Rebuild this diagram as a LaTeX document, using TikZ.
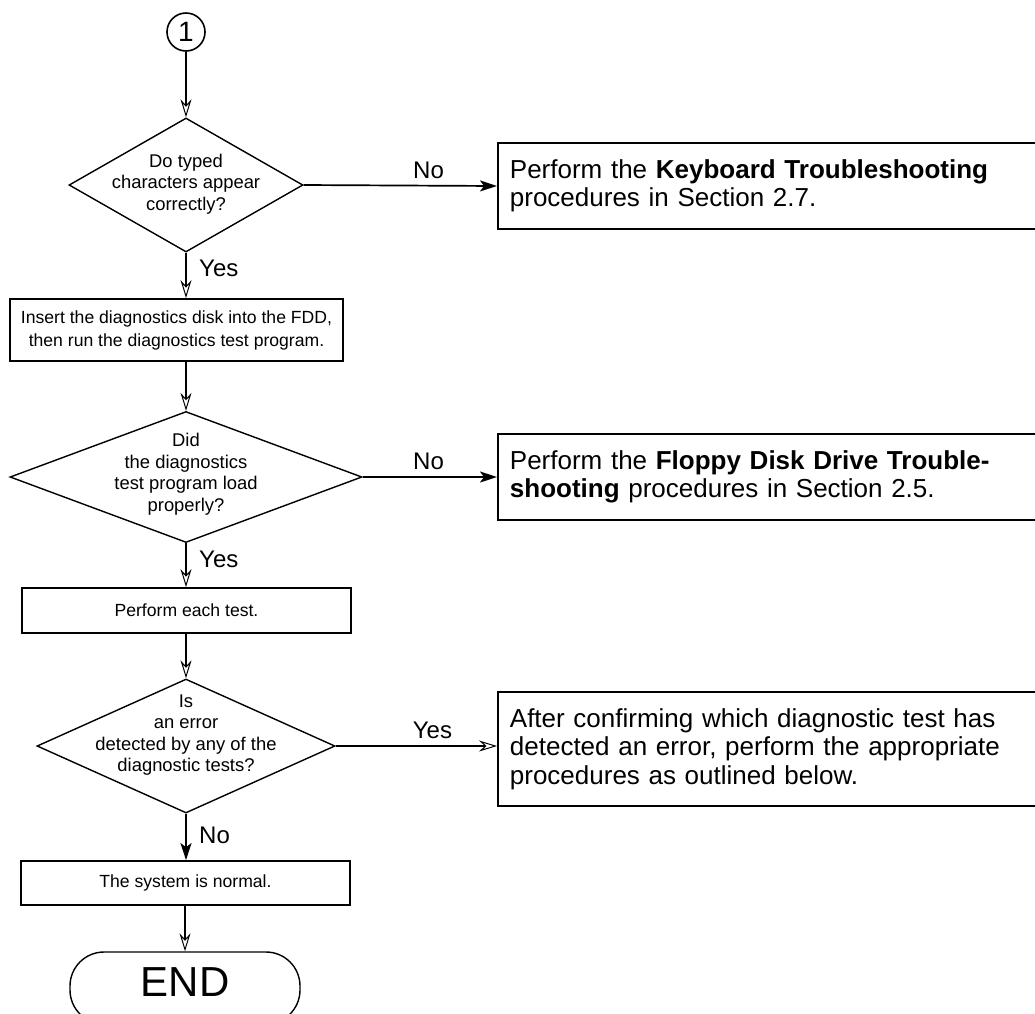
\documentclass[tikz,border=0pt]{standalone}
\usepackage{fontspec}
\setmainfont{Liberation Sans}
\usetikzlibrary{arrows.meta,shapes.geometric}
\newcommand\fsmall{\fontsize{17.6}{23}\selectfont}
\newcommand\fdia{\fontsize{18.4}{21.5}\selectfont}
\newcommand\fbig{\fontsize{26}{28.5}\selectfont}
\newcommand\flab{\fontsize{24}{26}\selectfont}
\newcommand\fend{\fontsize{42}{44}\selectfont}
\newcommand\fcirc{\fontsize{28}{30}\selectfont}
\begin{document}
\begin{tikzpicture}[x=1pt,y=-1pt,
  dia/.style={draw, diamond, line width=1.4pt, inner sep=0pt},
  pbox/.style={draw, line width=1.8pt, inner sep=0pt, align=center, font=\fsmall},
  rbox/.style={draw, line width=1.8pt, inner xsep=12pt, inner ysep=0pt, align=left, anchor=west, font=\fbig, text width=524pt, minimum height=86pt},
  dtext/.style={align=center, font=\fdia, inner sep=0pt},
  lab/.style={font=\flab, inner sep=0pt},
  oarr/.style={line width=1.7pt, -{Stealth[open, length=18pt, width=11pt, inset=6pt, line width=1pt]}},
  farr/.style={line width=1.7pt, -{Stealth[length=17pt, width=11pt, inset=4pt]}},
]
\useasboundingbox (0,0) rectangle (1035,1013);
\clip (0,0) rectangle (1035,1013);

% nodes
\node[draw, circle, line width=1.6pt, minimum size=38pt, inner sep=0pt, font=\fcirc] (c1) at (186,32) {1};

\node[dia, minimum width=234pt, minimum height=134pt] (d1) at (186,185) {};
\node[dtext] (t1) at (186,184) {Do typed\\characters appear\\correctly?};
\node[rbox] (k1) at (497,186) {Perform the \textbf{Keyboard Troubleshooting}\\procedures in Section 2.7.};

\node[pbox, minimum width=333pt, minimum height=62pt] (b2) at (176.5,330) {Insert the diagnostics disk into the FDD,\\then run the diagnostics test program.};

\node[dia, minimum width=352pt, minimum height=131pt] (d2) at (186,477) {};
\node[dtext] (t2) at (186,474) {Did\\the diagnostics\\test program load\\properly?};
\node[rbox] (k2) at (497,477) {Perform the \textbf{Floppy Disk Drive Trouble-}\\\textbf{shooting} procedures in Section 2.5.};

\node[pbox, minimum width=329pt, minimum height=45pt] (b3) at (186.5,610.5) {Perform each test.};

\node[dia, minimum width=298pt, minimum height=134pt] (d3) at (186,746) {};
\node[dtext] (t3) at (186,735) {Is\\an error\\detected by any of the\\diagnostic tests?};
\node[rbox, minimum height=114pt] (k3) at (497,749) {After confirming which diagnostic test has\\detected an error, perform the appropriate\\procedures as outlined below.};

\node[pbox, minimum width=329pt, minimum height=44pt] (b4) at (185.5,883) {The system is normal.};

\node[draw, line width=1.4pt, rounded corners=34pt, minimum width=230pt, minimum height=72pt, inner sep=0pt] (e) at (185,988) {};
\node[font=\fend, inner sep=0pt] (et) at (185,982) {END};

% connectors
\draw[oarr] (c1) -- (d1.north);
\draw[farr] (d1.east) -- node[lab, above=6pt, pos=0.646]{No} (k1.west);
\draw[oarr] (d1.south) -- (d1.south |- b2.north);
\node[lab, anchor=west] (y1) at ([shift={(13,16)}]d1.south) {Yes};

\draw[oarr] (d2.north |- b2.south) -- (d2.north);
\draw[farr] (d2.east) -- node[lab, above=6pt, pos=0.49]{No} (k2.west);
\draw[oarr] (d2.south) -- (d2.south |- b3.north);
\node[lab, anchor=west] (y2) at ([shift={(13,16)}]d2.south) {Yes};

\draw[oarr] (d3.north |- b3.south) -- (d3.north);
\draw[oarr] (d3.east) -- node[lab, above=6pt, pos=0.6]{Yes} (d3.east -| k3.west);
\draw[farr] (d3.south) -- (d3.south |- b4.north);
\node[lab, anchor=west] (n3) at ([shift={(13,22)}]d3.south) {No};

\draw[oarr] (e.north |- b4.south) -- (e.north);
\end{tikzpicture}
\end{document}
